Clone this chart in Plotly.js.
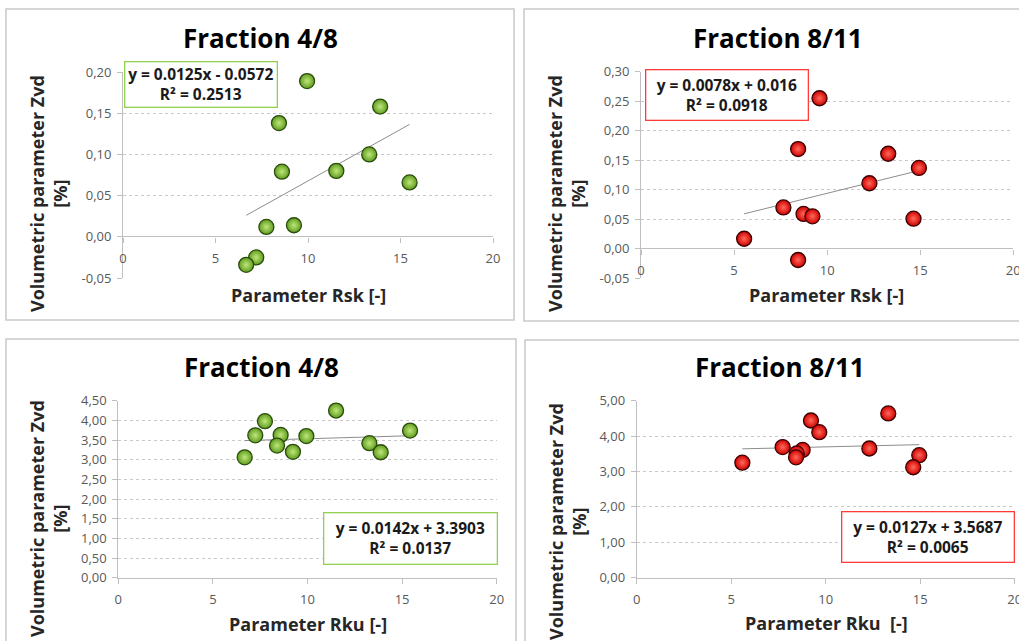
<!DOCTYPE html>
<html>
<head>
<meta charset="utf-8">
<script src="https://cdn.plot.ly/plotly-3.0.1.min.js"></script>
<style>html,body{margin:0;padding:0;background:#fff;}#chart{width:1019px;height:641px;}</style>
</head>
<body>
<div id="chart"></div>
<script>
// ---------- DATA ----------
const panelTitles = ["Fraction 4/8", "Fraction 8/11", "Fraction 4/8", "Fraction 8/11"];
const xTitles = ["Parameter Rsk [-]", "Parameter Rsk [-]", "Parameter Rku [-]", "Parameter Rku  [-]"];
const yTitle = "Volumetric parameter Zvd<br>[%]";

// Fraction 4/8 vs Rsk
const xA = [9.95, 13.90, 8.43, 8.59, 11.53, 13.31, 15.49, 7.75, 9.24, 7.20, 6.66];
const yA = [0.189, 0.158, 0.138, 0.079, 0.080, 0.100, 0.066, 0.012, 0.014, -0.025, -0.034];
// Fraction 8/11 vs Rsk
const xB = [9.59, 8.44, 13.28, 14.93, 12.27, 7.65, 8.73, 9.21, 14.64, 5.54, 8.44];
const yB = [0.255, 0.169, 0.161, 0.137, 0.111, 0.070, 0.059, 0.055, 0.051, 0.017, -0.019];
// Fraction 4/8 vs Rku
const xC = [11.51, 7.75, 7.24, 8.58, 9.94, 8.39, 9.23, 6.68, 13.27, 13.87, 15.42];
const yC = [4.25, 3.98, 3.62, 3.63, 3.60, 3.36, 3.20, 3.06, 3.42, 3.19, 3.74];
// Fraction 8/11 vs Rku
const xD = [13.31, 9.22, 9.66, 7.72, 8.78, 8.47, 8.43, 12.31, 14.95, 14.63, 5.59];
const yD = [4.64, 4.44, 4.11, 3.69, 3.61, 3.51, 3.40, 3.65, 3.46, 3.12, 3.25];

// Trendline coefficients (slope, intercept) and labels
const slopes = [0.0125, 0.0078, 0.0142, 0.0127];
const intercepts = [-0.0572, 0.016, 3.3903, 3.5687];
const eqLabels = ["y = 0.0125x - 0.0572<br>R² = 0.2513", "y = 0.0078x + 0.016<br>R² = 0.0918",
                  "y = 0.0142x + 3.3903<br>R² = 0.0137", "y = 0.0127x + 3.5687<br>R² = 0.0065"];

// Tick labels
const xTickVals = [0, 5, 10, 15, 20];
const yTickValsA = [-0.05, 0, 0.05, 0.10, 0.15, 0.20];
const yTickTextA = ["-0,05", "0,00", "0,05", "0,10", "0,15", "0,20"];
const yTickValsB = [-0.05, 0, 0.05, 0.10, 0.15, 0.20, 0.25, 0.30];
const yTickTextB = ["-0,05", "0,00", "0,05", "0,10", "0,15", "0,20", "0,25", "0,30"];
const yTickValsC = [0, 0.5, 1, 1.5, 2, 2.5, 3, 3.5, 4, 4.5];
const yTickTextC = ["0,00", "0,50", "1,00", "1,50", "2,00", "2,50", "3,00", "3,50", "4,00", "4,50"];
const yTickValsD = [0, 1, 2, 3, 4, 5];
const yTickTextD = ["0,00", "1,00", "2,00", "3,00", "4,00", "5,00"];

// ---------- LAYOUT HELPERS ----------
const W = 1019, H = 641;
const px = v => v / W;
const py = v => 1 - v / H;

const GREEN = {edge: "#5f9c1f", center: "#bfe77a", line: "#2a4d0c", box: "#92d050"};
const RED = {edge: "#d00000", center: "#ff6a5a", line: "#3a0000", box: "#ff3b3b"};

const panels = [
  {x: xA, y: yA, col: GREEN, dom: [123, 493], ydom: [278, 72], yr: [-0.05, 0.20], tv: yTickValsA, tt: yTickTextA, zeroAxis: true,
   border: [6, 9, 514, 320], title: [260, 38], xt: [308, 295], yt: [49, 194], box: [124, 62, 277, 108]},
  {x: xB, y: yB, col: RED, dom: [641, 1013.3], ydom: [278.3, 71.7], yr: [-0.05, 0.30], tv: yTickValsB, tt: yTickTextB, zeroAxis: true,
   border: [524, 9, 1030, 321], title: [778, 38], xt: [826, 295], yt: [567, 194], box: [645, 69, 808, 120]},
  {x: xC, y: yC, col: GREEN, dom: [118.3, 496.7], ydom: [577.7, 400.7], yr: [0, 4.5], tv: yTickValsC, tt: yTickTextC, zeroAxis: false,
   border: [6, 339, 516, 660], title: [261, 367], xt: [308, 624], yt: [48, 519], box: [323, 512, 497, 564]},
  {x: xD, y: yD, col: RED, dom: [636.7, 1014.7], ydom: [577.7, 400.7], yr: [0, 5], tv: yTickValsD, tt: yTickTextD, zeroAxis: false,
   border: [525, 340, 1030, 660], title: [780, 367], xt: [826, 623], yt: [567, 522], box: [841, 511, 1014, 562]}
];

const FONT = "'Open Sans', 'DejaVu Sans', sans-serif";
const traces = [];
const layout = {
  width: W, height: H,
  margin: {l: 0, r: 0, t: 0, b: 0},
  paper_bgcolor: "#ffffff",
  plot_bgcolor: "rgba(0,0,0,0)",
  showlegend: false,
  font: {family: FONT, color: "#595959", size: 12},
  shapes: [], annotations: []
};

panels.forEach((p, i) => {
  const n = i + 1;
  const xa = "x" + (n === 1 ? "" : n), ya = "y" + (n === 1 ? "" : n);
  const xk = "xaxis" + (n === 1 ? "" : n), yk = "yaxis" + (n === 1 ? "" : n);

  // trendline over the data range using the regression coefficients
  const xmin = Math.min(...p.x), xmax = Math.max(...p.x);
  traces.push({
    type: "scatter", mode: "lines", xaxis: xa, yaxis: ya,
    x: [xmin, xmax], y: [slopes[i] * xmin + intercepts[i], slopes[i] * xmax + intercepts[i]],
    line: {color: "#8c8c8c", width: 1}, hoverinfo: "skip"
  });
  traces.push({
    type: "scatter", mode: "markers", xaxis: xa, yaxis: ya,
    x: p.x, y: p.y,
    marker: {size: 15, color: p.col.edge, gradient: {type: "radial", color: p.col.center},
             line: {color: p.col.line, width: 1.3}}
  });

  const zeroPos = p.zeroAxis ? py(p.ydom[0] - (0 - p.yr[0]) / (p.yr[1] - p.yr[0]) * (p.ydom[0] - p.ydom[1])) : null;
  layout[xk] = {
    domain: [px(p.dom[0]), px(p.dom[1])],
    range: [0, 20], tickmode: "array", tickvals: xTickVals, ticktext: xTickVals.map(String),
    showgrid: false, zeroline: false,
    showline: !p.zeroAxis, linecolor: "#bfbfbf", linewidth: 1,
    ticks: "outside", ticklen: 5, tickcolor: "#bfbfbf", tickwidth: 1,
    ticklabelstandoff: 5, ticklabeloverflow: "allow",
    tickfont: {family: FONT, size: 13, color: "#595959"},
    fixedrange: true
  };
  if (p.zeroAxis) { layout[xk].anchor = "free"; layout[xk].position = zeroPos; }
  else { layout[xk].anchor = ya; }

  layout[yk] = {
    domain: [py(p.ydom[0]), py(p.ydom[1])],
    range: p.yr, anchor: xa,
    tickmode: "array", tickvals: p.tv, ticktext: p.tt,
    showgrid: true, gridcolor: "#c8c8c8", griddash: "dot", gridwidth: 1,
    zeroline: p.zeroAxis, zerolinecolor: "#bfbfbf", zerolinewidth: 1,
    showline: true, linecolor: "#bfbfbf", linewidth: 1,
    ticks: "outside", ticklen: 5, tickcolor: "#bfbfbf", tickwidth: 1,
    ticklabelstandoff: 3,
    tickfont: {family: FONT, size: 13, color: "#595959"},
    fixedrange: true
  };

  // panel border
  layout.shapes.push({type: "rect", xref: "paper", yref: "paper",
    x0: px(p.border[0]), x1: px(p.border[2]), y0: py(p.border[3]), y1: py(p.border[1]),
    line: {color: "#c9c9c9", width: 1.5}, fillcolor: "rgba(0,0,0,0)", layer: "below"});

  // title
  layout.annotations.push({xref: "paper", yref: "paper", x: px(p.title[0]), y: py(p.title[1]),
    xanchor: "center", yanchor: "middle", showarrow: false, text: "<b>" + panelTitles[i] + "</b>",
    font: {family: FONT, size: 26, color: "#000000"}});
  // x title
  layout.annotations.push({xref: "paper", yref: "paper", x: px(p.xt[0]), y: py(p.xt[1]),
    xanchor: "center", yanchor: "middle", showarrow: false, text: "<b>" + xTitles[i] + "</b>",
    font: {family: FONT, size: 18, color: "#262626"}});
  // y title
  layout.annotations.push({xref: "paper", yref: "paper", x: px(p.yt[0]), y: py(p.yt[1]),
    xanchor: "center", yanchor: "middle", showarrow: false, textangle: -90, text: "<b>" + yTitle + "</b>",
    font: {family: FONT, size: 18, color: "#262626"}});
  // equation box
  const bw = p.box[2] - p.box[0], bh = p.box[3] - p.box[1];
  layout.annotations.push({xref: "paper", yref: "paper", x: px((p.box[0] + p.box[2]) / 2), y: py((p.box[1] + p.box[3]) / 2),
    xanchor: "center", yanchor: "middle", showarrow: false, text: "<b>" + eqLabels[i] + "</b>",
    width: bw - 2, height: bh - 2, borderpad: 0, align: "center", valign: "middle",
    bordercolor: p.col.box, borderwidth: 1.3, bgcolor: "#ffffff",
    font: {family: FONT, size: 15.5, color: "#1a1a1a"}});
});

Plotly.newPlot("chart", traces, layout, {staticPlot: true, displayModeBar: false});
</script>
</body>
</html>
